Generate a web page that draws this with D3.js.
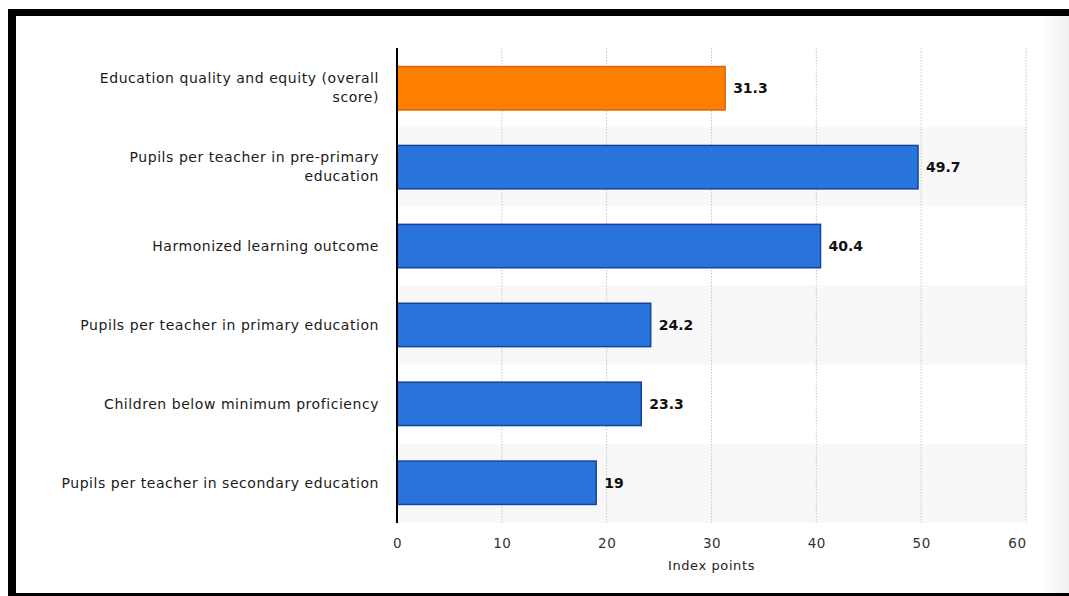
<!DOCTYPE html>
<html>
<head>
<meta charset="utf-8">
<script src="https://cdn.jsdelivr.net/npm/d3@7"></script>
<style>
  body { margin: 0; background: #fff; }
  svg { display: block; font-family: "DejaVu Sans", Verdana, sans-serif; }
</style>
</head>
<body>
<svg id="chart" width="1069" height="596"></svg>
<script>
var categories = [
  ["Education quality and equity (overall", "score)"],
  ["Pupils per teacher in pre-primary", "education"],
  ["Harmonized learning outcome"],
  ["Pupils per teacher in primary education"],
  ["Children below minimum proficiency"],
  ["Pupils per teacher in secondary education"]
];
var values = [31.3, 49.7, 40.4, 24.2, 23.3, 19];
var highlight = [true, false, false, false, false, false];
var xTicks = [0, 10, 20, 30, 40, 50, 60];
var xTitle = "Index points";

var svg = d3.select("#chart"),
    margin = {top: 48, right: 43, bottom: 73, left: 397},
    width = +svg.attr("width") - margin.left - margin.right,
    height = +svg.attr("height") - margin.top - margin.bottom;

// frame
var defs = svg.append("defs");
var grad = defs.append("linearGradient").attr("id", "edge").attr("x1", 0).attr("x2", 1);
grad.append("stop").attr("offset", 0).attr("stop-color", "#fff");
grad.append("stop").attr("offset", 1).attr("stop-color", "#eeeff0");
svg.append("rect").attr("x", 1040).attr("y", 16).attr("width", 29).attr("height", 577).attr("fill", "url(#edge)");
svg.append("rect").attr("x", 8).attr("y", 9).attr("width", 1061).attr("height", 7).attr("fill", "#000");
svg.append("rect").attr("x", 8).attr("y", 9).attr("width", 8).attr("height", 587).attr("fill", "#000");
svg.append("rect").attr("x", 8).attr("y", 593).attr("width", 1061).attr("height", 3).attr("fill", "#000");

var idx = d3.range(values.length);
var x = d3.scaleLinear().domain([0, 60]).range([0, width]);
var band = d3.scaleBand().domain(idx).range([0, height]);
var y = d3.scaleBand().domain(idx).range([0, height]).paddingInner(0.45).paddingOuter(0.235);

var g = svg.append("g").attr("transform", "translate(" + margin.left + "," + margin.top + ")");

// alternating row shading
g.selectAll(".row")
  .data(idx.filter(function(i) { return i % 2 === 1; }))
  .enter().append("rect")
    .attr("x", 2)
    .attr("y", function(i) { return band(i); })
    .attr("width", width - 1)
    .attr("height", band.bandwidth())
    .attr("fill", "#f8f8f8");

// grid
g.selectAll(".grid")
  .data(xTicks.slice(1))
  .enter().append("line")
    .attr("x1", function(d) { return x(d); })
    .attr("x2", function(d) { return x(d); })
    .attr("y1", 0)
    .attr("y2", height)
    .attr("stroke", "#c8c8c8")
    .attr("stroke-width", 1)
    .attr("stroke-dasharray", "1.5,1.5");

// bars
g.selectAll(".bar")
  .data(idx)
  .enter().append("rect")
    .attr("x", x(0))
    .attr("y", function(i) { return y(i); })
    .attr("width", function(i) { return x(values[i]); })
    .attr("height", y.bandwidth())
    .attr("fill", function(i) { return highlight[i] ? "#ff8000" : "#2874dc"; })
    .attr("stroke", function(i) { return highlight[i] ? "#d9620a" : "#1444a0"; })
    .attr("stroke-width", 1.5);

// value labels
g.selectAll(".val")
  .data(idx)
  .enter().append("text")
    .attr("x", function(i) { return x(values[i]) + 8; })
    .attr("y", function(i) { return y(i) + y.bandwidth() / 2; })
    .attr("dy", "0.35em")
    .attr("font-size", 14)
    .attr("font-weight", "bold")
    .attr("fill", "#111")
    .text(function(i) { return values[i]; });

// y axis line
g.append("line")
  .attr("x1", 0).attr("x2", 0)
  .attr("y1", 0).attr("y2", height)
  .attr("stroke", "#000").attr("stroke-width", 2);

// category labels
var labels = g.selectAll(".cat")
  .data(idx)
  .enter().append("text")
    .attr("text-anchor", "end")
    .attr("font-size", 14)
    .attr("letter-spacing", 0.55)
    .attr("fill", "#1a1a1a")
    .attr("transform", function(i) {
      var n = categories[i].length;
      return "translate(-18," + (band(i) + band.bandwidth() / 2 - (n - 1) * 9.5) + ")";
    });
labels.selectAll("tspan")
  .data(function(i) { return categories[i]; })
  .enter().append("tspan")
    .attr("x", 0)
    .attr("y", function(d, j) { return j * 19; })
    .attr("dy", "0.35em")
    .text(function(d) { return d; });

// x axis
var xAxis = g.append("g")
  .attr("transform", "translate(0," + height + ")")
  .call(d3.axisBottom(x).tickValues(xTicks).tickSize(0).tickPadding(15));
xAxis.select(".domain").remove();
xAxis.selectAll("text")
  .attr("font-family", "DejaVu Sans, Verdana, sans-serif")
  .attr("font-size", 13.5)
  .attr("letter-spacing", 0.5)
  .attr("fill", "#333")
  .attr("text-anchor", function(d) { return d === xTicks[xTicks.length - 1] ? "end" : "middle"; });

g.append("text")
  .attr("x", width / 2)
  .attr("y", height + 47)
  .attr("text-anchor", "middle")
  .attr("font-size", 13)
  .attr("letter-spacing", 0.6)
  .attr("fill", "#222")
  .text(xTitle);
</script>
</body>
</html>
